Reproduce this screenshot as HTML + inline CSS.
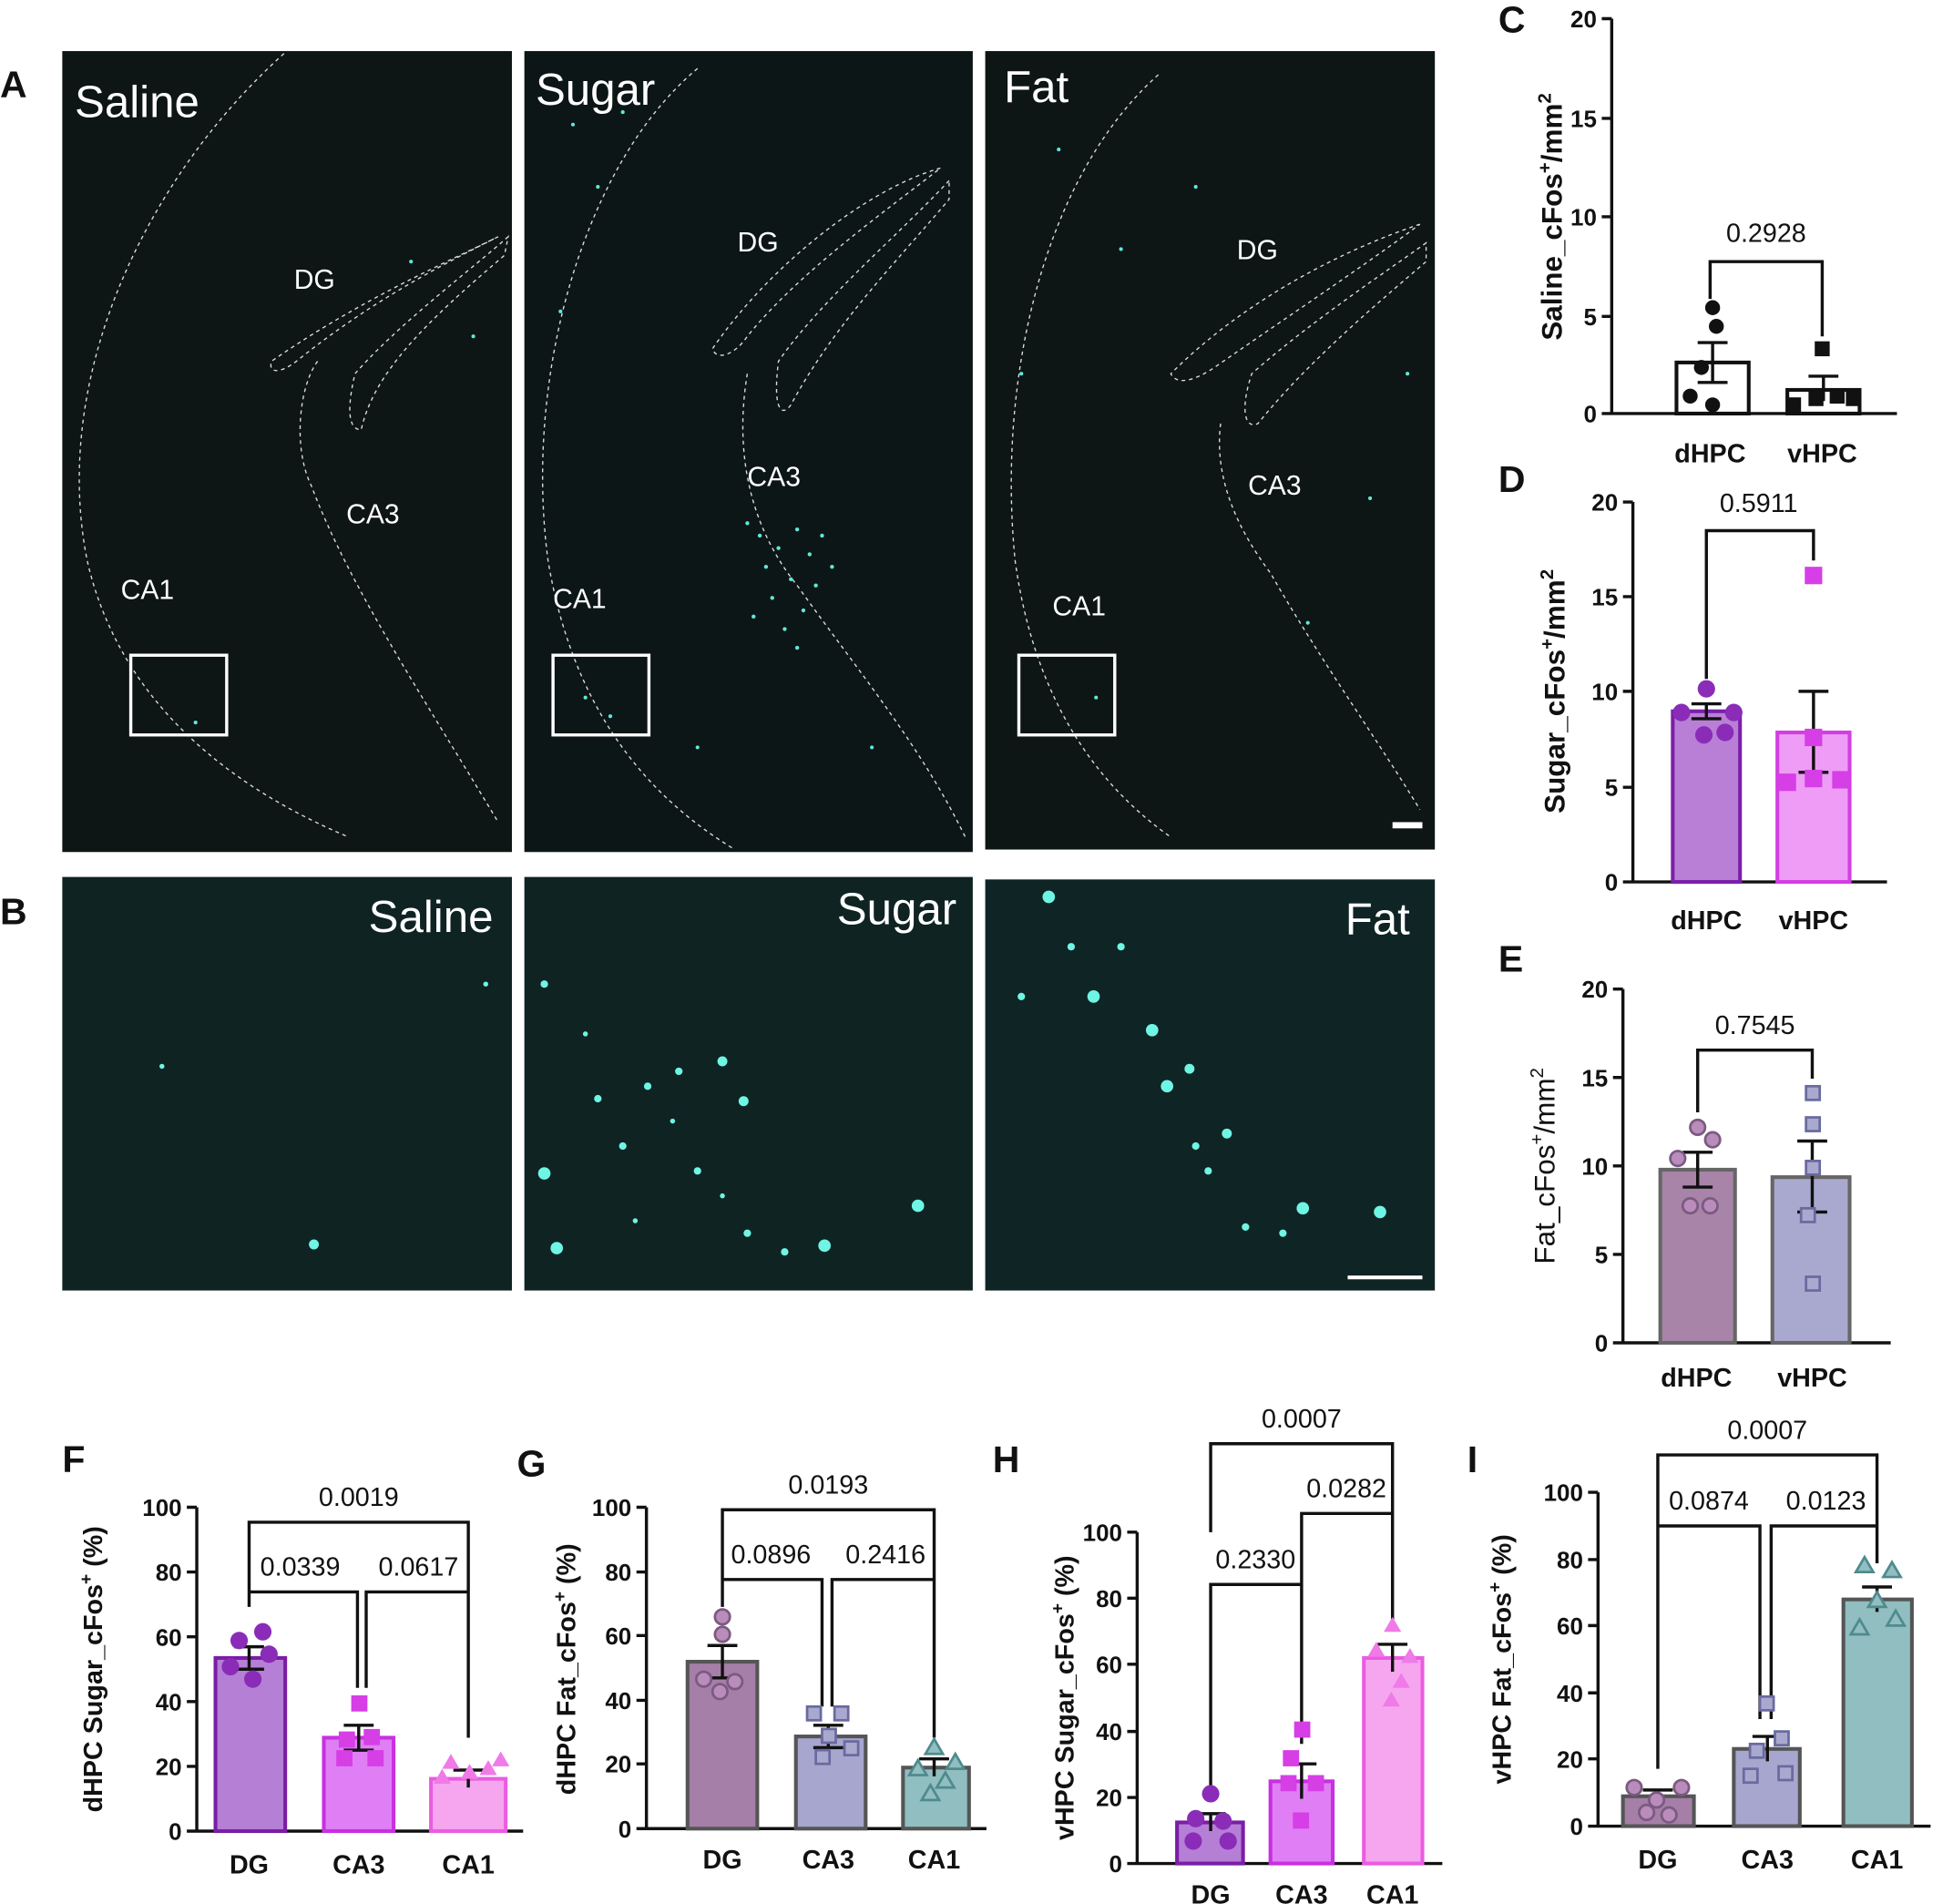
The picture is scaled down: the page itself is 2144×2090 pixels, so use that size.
<!DOCTYPE html>
<html><head><meta charset="utf-8"><style>
html,body{margin:0;padding:0;background:#fff}
svg{display:block}
text{font-family:"Liberation Sans",sans-serif}
</style></head><body>
<svg width="2144" height="2090" viewBox="0 0 1568 1528.5" xmlns="http://www.w3.org/2000/svg">
<rect width="1568" height="1528.5" fill="#fff"/>
<g font-weight="bold" font-size="30" fill="#111">
<text x="0" y="78">A</text><text x="0" y="742">B</text><text x="1203" y="26">C</text>
<text x="1203" y="395">D</text><text x="1203" y="780">E</text><text x="50" y="1182">F</text>
<text x="415" y="1185">G</text><text x="797" y="1182">H</text><text x="1178" y="1182">I</text>
</g>
<rect x="50" y="41" width="361" height="643" fill="#0d1515"/>
<rect x="421" y="41" width="360" height="643" fill="#0d1616"/>
<rect x="791" y="41" width="361" height="641" fill="#0d1515"/>
<g fill="none" stroke="#ddd" stroke-width="1" stroke-dasharray="3,3">
<path d="M228,43 C120,140 40,300 70,450 C95,560 180,630 280,672"/>
<path d="M400,190 C360,210 290,240 218,290 C215,300 225,300 238,290 C300,240 360,210 400,190 Z"/>
<path d="M408,190 C380,215 320,260 285,300 C278,330 280,345 290,345 C300,300 340,260 405,205 Z"/>
<path d="M255,290 C240,310 235,360 250,390 C280,470 340,560 400,660"/>
<path d="M560,55 C470,130 420,300 440,450 C460,570 520,640 590,682"/>
<path d="M755,135 C700,150 620,210 572,280 C575,290 590,285 600,270 C640,220 710,170 755,135 Z"/>
<path d="M762,145 C720,190 660,240 625,290 C620,330 628,335 635,325 C670,260 720,210 762,160 Z"/>
<path d="M600,300 C590,360 600,420 640,470 C690,540 740,600 775,672"/>
<path d="M930,60 C840,140 800,300 815,450 C830,560 880,630 940,672"/>
<path d="M1140,180 C1080,200 1000,240 940,300 C945,310 960,305 975,295 C1040,250 1100,210 1140,180 Z"/>
<path d="M1145,195 C1110,220 1050,260 1005,300 C995,330 1000,345 1010,340 C1050,290 1110,240 1145,210 Z"/>
<path d="M980,340 C975,380 990,420 1020,460 C1060,530 1110,600 1140,650"/>
</g>
<g fill="#fff" font-size="36"><text x="60" y="94">Saline</text><text x="430" y="84">Sugar</text><text x="806" y="82">Fat</text></g>
<g fill="#fff" font-size="22">
<text x="236" y="232">DG</text><text x="278" y="420">CA3</text><text x="97" y="481">CA1</text>
<text x="592" y="202">DG</text><text x="600" y="390">CA3</text><text x="444" y="488">CA1</text>
<text x="993" y="208">DG</text><text x="1002" y="397">CA3</text><text x="845" y="494">CA1</text>
</g>
<g fill="none" stroke="#fff" stroke-width="2.5">
<rect x="105" y="526" width="77" height="64"/><rect x="444" y="526" width="77" height="64"/><rect x="818" y="526" width="77" height="64"/>
</g>
<rect x="1118" y="660" width="24" height="5" fill="#fff"/>
<g fill="#5fe8d8">
<circle cx="600" cy="420" r="1.6"/><circle cx="610" cy="430" r="1.6"/><circle cx="625" cy="440" r="1.6"/><circle cx="640" cy="425" r="1.6"/><circle cx="650" cy="445" r="1.6"/><circle cx="615" cy="455" r="1.6"/><circle cx="635" cy="465" r="1.6"/><circle cx="655" cy="470" r="1.6"/><circle cx="620" cy="480" r="1.6"/><circle cx="645" cy="490" r="1.6"/><circle cx="630" cy="505" r="1.6"/><circle cx="660" cy="430" r="1.6"/><circle cx="668" cy="455" r="1.6"/><circle cx="605" cy="495" r="1.6"/><circle cx="640" cy="520" r="1.6"/>
<circle cx="460" cy="100" r="1.5"/><circle cx="480" cy="150" r="1.5"/><circle cx="450" cy="250" r="1.5"/><circle cx="500" cy="90" r="1.5"/><circle cx="470" cy="560" r="1.5"/><circle cx="490" cy="575" r="1.5"/><circle cx="700" cy="600" r="1.5"/><circle cx="560" cy="600" r="1.5"/>
<circle cx="850" cy="120" r="1.5"/><circle cx="900" cy="200" r="1.5"/><circle cx="820" cy="300" r="1.5"/><circle cx="880" cy="560" r="1.5"/><circle cx="1050" cy="500" r="1.5"/><circle cx="1100" cy="400" r="1.5"/><circle cx="960" cy="150" r="1.5"/><circle cx="1130" cy="300" r="1.5"/>
<circle cx="157" cy="580" r="1.5"/><circle cx="380" cy="270" r="1.5"/><circle cx="330" cy="210" r="1.5"/>
</g>
<rect x="50" y="704" width="361" height="332" fill="#0f2323"/>
<rect x="421" y="704" width="360" height="332" fill="#0f2323"/>
<rect x="791" y="706" width="361" height="330" fill="#0f2424"/>
<g fill="#fff" font-size="36"><text x="396" y="748" text-anchor="end">Saline</text><text x="768" y="742" text-anchor="end">Sugar</text><text x="1132" y="750" text-anchor="end">Fat</text></g>
<rect x="1082" y="1024" width="60" height="3" fill="#fff"/>
<g fill="#6ff5e4">
<circle cx="252" cy="999" r="4"/><circle cx="130" cy="856" r="2"/><circle cx="390" cy="790" r="2"/>
<circle cx="437" cy="942" r="5"/><circle cx="447" cy="1002" r="5"/><circle cx="737" cy="968" r="5"/><circle cx="662" cy="1000" r="5"/><circle cx="580" cy="852" r="4"/><circle cx="597" cy="884" r="4"/><circle cx="480" cy="882" r="3"/><circle cx="520" cy="872" r="3"/><circle cx="545" cy="860" r="3"/><circle cx="500" cy="920" r="3"/><circle cx="560" cy="940" r="3"/><circle cx="600" cy="990" r="3"/><circle cx="630" cy="1005" r="3"/><circle cx="437" cy="790" r="3"/><circle cx="470" cy="830" r="2"/><circle cx="540" cy="900" r="2"/><circle cx="580" cy="960" r="2"/><circle cx="510" cy="980" r="2"/>
<circle cx="842" cy="720" r="5"/><circle cx="878" cy="800" r="5"/><circle cx="925" cy="827" r="5"/><circle cx="937" cy="872" r="5"/><circle cx="955" cy="858" r="4"/><circle cx="1046" cy="970" r="5"/><circle cx="1108" cy="973" r="5"/><circle cx="985" cy="910" r="4"/><circle cx="970" cy="940" r="3"/><circle cx="1000" cy="985" r="3"/><circle cx="1030" cy="990" r="3"/><circle cx="900" cy="760" r="3"/><circle cx="860" cy="760" r="3"/><circle cx="820" cy="800" r="3"/><circle cx="960" cy="920" r="3"/>
</g>

<g stroke="#111" stroke-width="2.5" fill="none">
<path d="M1294,15 V332 H1523 M1286,15H1294 M1286,95H1294 M1286,174H1294 M1286,254H1294 M1286,332H1294"/>
<path d="M1311,403 V708 H1515 M1303,403H1311 M1303,479H1311 M1303,555H1311 M1303,632H1311 M1303,708H1311"/>
<path d="M1303,794 V1078 H1518 M1295,794H1303 M1295,865H1303 M1295,936H1303 M1295,1007H1303 M1295,1078H1303"/>
<path d="M158,1210 V1470 H420 M150,1210H158 M150,1262H158 M150,1314H158 M150,1366H158 M150,1418H158 M150,1470H158"/>
<path d="M519,1210 V1468 H792 M511,1210H519 M511,1262H519 M511,1313H519 M511,1365H519 M511,1416H519 M511,1468H519"/>
<path d="M913,1230 V1496 H1158 M905,1230H913 M905,1283H913 M905,1336H913 M905,1390H913 M905,1443H913 M905,1496H913"/>
<path d="M1283,1198 V1466 H1550 M1275,1198H1283 M1275,1252H1283 M1275,1305H1283 M1275,1359H1283 M1275,1412H1283 M1275,1466H1283"/>
</g>
<g font-size="19" fill="#111" text-anchor="end" font-weight="bold">
<text x="1282" y="22">20</text><text x="1282" y="102">15</text><text x="1282" y="181">10</text><text x="1282" y="261">5</text><text x="1282" y="339">0</text>
<text x="1299" y="410">20</text><text x="1299" y="486">15</text><text x="1299" y="562">10</text><text x="1299" y="639">5</text><text x="1299" y="715">0</text>
<text x="1291" y="801">20</text><text x="1291" y="872">15</text><text x="1291" y="943">10</text><text x="1291" y="1014">5</text><text x="1291" y="1085">0</text>
<text x="146" y="1217">100</text><text x="146" y="1269">80</text><text x="146" y="1321">60</text><text x="146" y="1373">40</text><text x="146" y="1425">20</text><text x="146" y="1477">0</text>
<text x="507" y="1217">100</text><text x="507" y="1269">80</text><text x="507" y="1320">60</text><text x="507" y="1372">40</text><text x="507" y="1423">20</text><text x="507" y="1475">0</text>
<text x="901" y="1237">100</text><text x="901" y="1290">80</text><text x="901" y="1343">60</text><text x="901" y="1397">40</text><text x="901" y="1450">20</text><text x="901" y="1503">0</text>
<text x="1271" y="1205">100</text><text x="1271" y="1259">80</text><text x="1271" y="1312">60</text><text x="1271" y="1366">40</text><text x="1271" y="1419">20</text><text x="1271" y="1473">0</text>
</g>
<g font-size="21" fill="#111" text-anchor="middle" font-weight="bold">
<text x="1373" y="371">dHPC</text><text x="1463" y="371">vHPC</text>
<text x="1370" y="746">dHPC</text><text x="1456" y="746">vHPC</text>
<text x="1362" y="1113">dHPC</text><text x="1455" y="1113">vHPC</text>
<text x="200" y="1504">DG</text><text x="288" y="1504">CA3</text><text x="376" y="1504">CA1</text>
<text x="580" y="1500">DG</text><text x="665" y="1500">CA3</text><text x="750" y="1500">CA1</text>
<text x="972" y="1528">DG</text><text x="1045" y="1528">CA3</text><text x="1118" y="1528">CA1</text>
<text x="1331" y="1500">DG</text><text x="1419" y="1500">CA3</text><text x="1507" y="1500">CA1</text>
</g>
<g font-size="23" fill="#111" text-anchor="middle" font-weight="bold">
<text transform="translate(1254,174) rotate(-90)">Saline_cFos<tspan dy="-9" font-size="15">+</tspan><tspan dy="9">/mm</tspan><tspan dy="-9" font-size="15">2</tspan></text>
<text transform="translate(1256,555) rotate(-90)">Sugar_cFos<tspan dy="-9" font-size="15">+</tspan><tspan dy="9">/mm</tspan><tspan dy="-9" font-size="15">2</tspan></text>
<text transform="translate(1248,936) rotate(-90)" font-weight="normal">Fat_cFos<tspan dy="-9" font-size="15">+</tspan><tspan dy="9">/mm</tspan><tspan dy="-9" font-size="15">2</tspan></text>
<text transform="translate(82,1340) rotate(-90)" font-size="21">dHPC Sugar_cFos<tspan dy="-8" font-size="14">+</tspan><tspan dy="8"> (%)</tspan></text>
<text transform="translate(462,1340) rotate(-90)" font-size="21">dHPC Fat_cFos<tspan dy="-8" font-size="14">+</tspan><tspan dy="8"> (%)</tspan></text>
<text transform="translate(862,1363) rotate(-90)" font-size="21">vHPC Sugar_cFos<tspan dy="-8" font-size="14">+</tspan><tspan dy="8"> (%)</tspan></text>
<text transform="translate(1213,1332) rotate(-90)" font-size="21">vHPC Fat_cFos<tspan dy="-8" font-size="14">+</tspan><tspan dy="8"> (%)</tspan></text>
</g>
<g stroke-width="3">
<rect x="1346" y="291" width="58" height="41" fill="#fff" stroke="#111"/>
<rect x="1435" y="313" width="58" height="19" fill="#fff" stroke="#111"/>
<rect x="1343" y="571" width="54" height="137" fill="#b97fd6" stroke="#7a20a8"/>
<rect x="1427" y="588" width="58" height="120" fill="#ee9cf5" stroke="#d23ee2"/>
<rect x="1333" y="939" width="60" height="139" fill="#a784a8" stroke="#666"/>
<rect x="1423" y="945" width="62" height="133" fill="#a9a9d0" stroke="#666"/>
<rect x="173" y="1331" width="56" height="139" fill="#b67fd6" stroke="#7a1ea5"/>
<rect x="260" y="1395" width="56" height="75" fill="#e07ef5" stroke="#c830e0"/>
<rect x="346" y="1428" width="60" height="42" fill="#f6a6ef" stroke="#ea5ce0"/>
<rect x="552" y="1334" width="56" height="134" fill="#a57fa8" stroke="#555"/>
<rect x="639" y="1394" width="56" height="74" fill="#a6a6cf" stroke="#555"/>
<rect x="725" y="1419" width="53" height="49" fill="#91bec0" stroke="#555"/>
<rect x="945" y="1463" width="53" height="33" fill="#b67fd6" stroke="#7a1ea5"/>
<rect x="1020" y="1430" width="50" height="66" fill="#e07ef5" stroke="#c830e0"/>
<rect x="1095" y="1331" width="47" height="165" fill="#f6a6ef" stroke="#ea5ce0"/>
<rect x="1303" y="1442" width="57" height="24" fill="#a57fa8" stroke="#555"/>
<rect x="1392" y="1404" width="53" height="62" fill="#a6a6cf" stroke="#555"/>
<rect x="1480" y="1284" width="55" height="182" fill="#91bec0" stroke="#555"/>
</g>
<g stroke="#111" stroke-width="2.5" fill="none">
<path d="M1375,275V307M1363,275H1387M1363,307H1387 M1464,302V322M1452,302H1476"/>
<path d="M1370,565V577M1358,565H1382M1358,577H1382 M1456,555V620M1444,555H1468M1444,620H1468"/>
<path d="M1363,925V953M1351,925H1375M1351,953H1375 M1455,916V973M1443,916H1467M1443,973H1467"/>
<path d="M200,1322V1340M188,1322H212M188,1340H212 M288,1385V1405M276,1385H300M276,1405H300 M376,1421V1435M364,1421H388"/>
<path d="M580,1321V1347M568,1321H592M568,1347H592 M665,1385V1403M653,1385H677M653,1403H677 M750,1412V1426M738,1412H762"/>
<path d="M972,1456V1470M960,1456H984 M1045,1416V1444M1033,1416H1057 M1118,1320V1342M1106,1320H1130"/>
<path d="M1331,1437V1447M1319,1437H1343 M1419,1394V1414M1407,1394H1431 M1507,1274V1294M1495,1274H1519"/>
<path d="M1373,240V210H1463V270"/>
<path d="M1370,545V426H1456V450"/>
<path d="M1363,893V843H1455V866"/>
<path d="M200,1290V1222H376V1395 M200,1290V1278H287V1355 M294,1355V1278H376V1395"/>
<path d="M580,1290V1212H750V1395 M580,1290V1268H660V1370 M668,1370V1268H750V1395"/>
<path d="M972,1230V1159H1118V1215 M972,1440V1272H1045V1400 M1045,1272V1215H1118V1300"/>
<path d="M1331,1420V1168H1507V1225 M1331,1420V1225H1413V1380 M1422,1380V1225H1507V1255"/>
</g>
<g font-size="21" fill="#111" text-anchor="middle">
<text x="1418" y="194">0.2928</text><text x="1412" y="411">0.5911</text><text x="1409" y="830">0.7545</text>
<text x="288" y="1209">0.0019</text><text x="241" y="1265">0.0339</text><text x="336" y="1265">0.0617</text>
<text x="665" y="1199">0.0193</text><text x="619" y="1255">0.0896</text><text x="711" y="1255">0.2416</text>
<text x="1045" y="1146">0.0007</text><text x="1008" y="1259">0.2330</text><text x="1081" y="1202">0.0282</text>
<text x="1419" y="1155">0.0007</text><text x="1372" y="1212">0.0874</text><text x="1466" y="1212">0.0123</text>
</g>
<g fill="#111">
<circle cx="1375" cy="247" r="6"/><circle cx="1378" cy="262" r="6"/><circle cx="1366" cy="295" r="6"/><circle cx="1375" cy="325" r="6"/><circle cx="1357" cy="318" r="6"/>
<rect x="1457" y="274" width="12" height="12"/><rect x="1434" y="319" width="12" height="12"/><rect x="1452" y="314" width="12" height="12"/><rect x="1469" y="312" width="12" height="12"/><rect x="1482" y="314" width="12" height="12"/>
</g>
<g fill="#8a2cb8"><circle cx="1370" cy="553" r="7"/><circle cx="1350" cy="572" r="7"/><circle cx="1392" cy="572" r="7"/><circle cx="1368" cy="590" r="7"/><circle cx="1385" cy="588" r="7"/>
<circle cx="211" cy="1310" r="7"/><circle cx="192" cy="1317" r="7"/><circle cx="216" cy="1328" r="7"/><circle cx="185" cy="1338" r="7"/><circle cx="203" cy="1348" r="7"/>
<circle cx="972" cy="1440" r="7"/><circle cx="960" cy="1460" r="7"/><circle cx="982" cy="1462" r="7"/><circle cx="958" cy="1478" r="7"/><circle cx="986" cy="1478" r="7"/></g>
<g fill="#d63ee6"><rect x="1449" y="455" width="14" height="14"/><rect x="1449" y="585" width="14" height="14"/><rect x="1428" y="621" width="14" height="14"/><rect x="1449" y="618" width="14" height="14"/><rect x="1471" y="619" width="14" height="14"/>
<rect x="282" y="1361" width="13" height="13"/><rect x="272" y="1390" width="13" height="13"/><rect x="292" y="1388" width="13" height="13"/><rect x="270" y="1405" width="13" height="13"/><rect x="295" y="1405" width="13" height="13"/>
<rect x="1039" y="1382" width="13" height="13"/><rect x="1030" y="1405" width="13" height="13"/><rect x="1050" y="1425" width="13" height="13"/><rect x="1038" y="1455" width="13" height="13"/><rect x="1028" y="1425" width="13" height="13"/></g>
<g fill="#f07ae8"><path d="M355,1420l7,-12l7,12z M370,1428l7,-12l7,12z M385,1425l7,-12l7,12z M395,1418l7,-12l7,12z M348,1432l7,-12l7,12z"/>
<path d="M1111,1310l7,-12l7,12z M1098,1330l7,-12l7,12z M1125,1335l7,-12l7,12z M1110,1370l7,-12l7,12z M1118,1355l7,-12l7,12z"/></g>
<g fill="#b98cbc" stroke="#7b5a80" stroke-width="2"><circle cx="1363" cy="905" r="6"/><circle cx="1375" cy="915" r="6"/><circle cx="1347" cy="930" r="6"/><circle cx="1373" cy="968" r="6"/><circle cx="1357" cy="968" r="6"/>
<circle cx="580" cy="1298" r="6"/><circle cx="580" cy="1312" r="6"/><circle cx="565" cy="1348" r="6"/><circle cx="590" cy="1350" r="6"/><circle cx="578" cy="1358" r="6"/>
<circle cx="1312" cy="1435" r="6"/><circle cx="1330" cy="1445" r="6"/><circle cx="1350" cy="1435" r="6"/><circle cx="1322" cy="1455" r="6"/><circle cx="1340" cy="1457" r="6"/></g>
<g fill="#a9a9d0" stroke="#6a6aa0" stroke-width="2"><rect x="1450" y="872" width="11" height="11"/><rect x="1450" y="897" width="11" height="11"/><rect x="1450" y="932" width="11" height="11"/><rect x="1446" y="970" width="11" height="11"/><rect x="1450" y="1025" width="11" height="11"/>
<rect x="648" y="1370" width="11" height="11"/><rect x="670" y="1370" width="11" height="11"/><rect x="660" y="1388" width="11" height="11"/><rect x="655" y="1405" width="11" height="11"/><rect x="678" y="1398" width="11" height="11"/>
<rect x="1413" y="1362" width="11" height="11"/><rect x="1405" y="1400" width="11" height="11"/><rect x="1425" y="1390" width="11" height="11"/><rect x="1400" y="1420" width="11" height="11"/><rect x="1428" y="1418" width="11" height="11"/></g>
<g fill="#91bec0" stroke="#4f8a8e" stroke-width="2"><path d="M743,1408l7,-12l7,12z M730,1425l7,-12l7,12z M760,1420l7,-12l7,12z M740,1445l7,-12l7,12z M752,1435l7,-12l7,12z"/>
<path d="M1490,1262l7,-12l7,12z M1512,1266l7,-12l7,12z M1500,1290l7,-12l7,12z M1486,1312l7,-12l7,12z M1515,1305l7,-12l7,12z"/></g>
</svg>
</body></html>
